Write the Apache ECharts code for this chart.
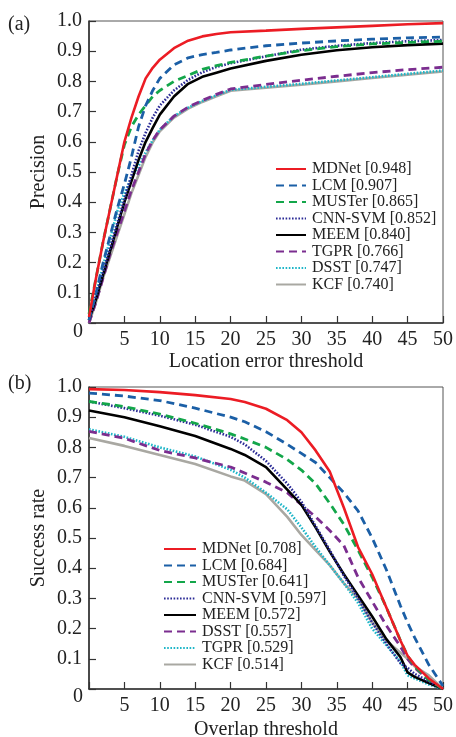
<!DOCTYPE html>
<html>
<head>
<meta charset="utf-8">
<script src="https://cdn.jsdelivr.net/npm/echarts@6/dist/echarts.min.js"></script>
<style>html,body{margin:0;padding:0;background:#fff;}#c{width:456px;height:737px;}</style>
</head>
<body>
<div id="c"></div>
<script>
// ---- (a) Precision vs location error threshold ----
const thrA = [0,1,2,3,4,5,6,7,8,9,10,12,14,16,18,20,25,30,35,40,45,50];
const namesA = ['MDNet [0.948]','LCM [0.907]','MUSTer [0.865]','CNN-SVM [0.852]','MEEM [0.840]','TGPR [0.766]','DSST [0.747]','KCF [0.740]'];
const a_MDNet  = [0.02,0.15,0.27,0.38,0.49,0.60,0.68,0.75,0.81,0.845,0.872,0.91,0.935,0.949,0.957,0.963,0.968,0.974,0.979,0.984,0.989,0.993];
const a_LCM    = [0.01,0.10,0.20,0.29,0.38,0.46,0.55,0.65,0.72,0.77,0.81,0.855,0.878,0.889,0.896,0.904,0.918,0.927,0.934,0.94,0.944,0.947];
const a_MUSTer = [0.03,0.15,0.27,0.38,0.49,0.59,0.65,0.69,0.72,0.75,0.77,0.80,0.82,0.84,0.852,0.863,0.884,0.902,0.915,0.924,0.929,0.933];
const a_CNNSVM = [0.01,0.09,0.17,0.25,0.33,0.41,0.49,0.57,0.63,0.68,0.72,0.77,0.805,0.83,0.848,0.86,0.883,0.905,0.918,0.927,0.933,0.937];
const a_MEEM   = [0.01,0.08,0.16,0.24,0.32,0.40,0.47,0.54,0.60,0.646,0.69,0.75,0.792,0.815,0.829,0.843,0.868,0.888,0.903,0.913,0.92,0.925];
const a_TGPR   = [0.00,0.07,0.15,0.23,0.30,0.37,0.44,0.50,0.56,0.605,0.64,0.685,0.715,0.737,0.757,0.775,0.79,0.804,0.817,0.829,0.839,0.847];
const a_DSST   = [0.01,0.10,0.19,0.28,0.37,0.43,0.48,0.52,0.565,0.605,0.64,0.685,0.713,0.735,0.754,0.772,0.782,0.792,0.803,0.814,0.825,0.836];
const a_KCF    = [0.00,0.07,0.15,0.22,0.29,0.36,0.43,0.49,0.55,0.598,0.635,0.68,0.71,0.732,0.751,0.769,0.779,0.789,0.80,0.811,0.822,0.833];
const valsA = [a_MDNet,a_LCM,a_MUSTer,a_CNNSVM,a_MEEM,a_TGPR,a_DSST,a_KCF];

// ---- (b) Success rate vs overlap threshold ----
const thrB = [0,5,10,15,20,22,25,28,30,32,34,36,38,40,42,44,45,46,48,50];
const namesB = ['MDNet [0.708]','LCM [0.684]','MUSTer [0.641]','CNN-SVM [0.597]','MEEM [0.572]','DSST [0.557]','TGPR [0.529]','KCF [0.514]'];
const b_MDNet  = [0.993,0.99,0.983,0.973,0.96,0.95,0.928,0.89,0.85,0.79,0.72,0.60,0.47,0.38,0.27,0.16,0.11,0.08,0.035,0.0];
const b_LCM    = [0.98,0.97,0.955,0.93,0.90,0.885,0.852,0.81,0.78,0.75,0.70,0.65,0.59,0.50,0.395,0.275,0.22,0.17,0.08,0.01];
const b_MUSTer = [0.952,0.935,0.91,0.88,0.845,0.828,0.80,0.76,0.725,0.68,0.615,0.545,0.46,0.37,0.27,0.16,0.11,0.075,0.03,0.0];
const b_CNNSVM = [0.952,0.93,0.905,0.875,0.835,0.81,0.755,0.68,0.62,0.54,0.46,0.375,0.30,0.22,0.15,0.085,0.07,0.05,0.025,0.0];
const b_MEEM   = [0.922,0.90,0.87,0.838,0.795,0.775,0.735,0.66,0.61,0.535,0.455,0.38,0.31,0.24,0.165,0.105,0.055,0.04,0.02,0.0];
const b_DSST   = [0.853,0.83,0.79,0.765,0.735,0.715,0.685,0.65,0.61,0.57,0.525,0.475,0.37,0.29,0.21,0.14,0.10,0.07,0.03,0.0];
const b_TGPR   = [0.86,0.835,0.80,0.77,0.726,0.70,0.65,0.595,0.535,0.47,0.41,0.35,0.285,0.20,0.145,0.09,0.045,0.035,0.015,0.0];
const b_KCF    = [0.831,0.805,0.775,0.745,0.704,0.69,0.645,0.57,0.51,0.46,0.41,0.35,0.30,0.22,0.16,0.12,0.10,0.075,0.045,0.0];
const valsB = [b_MDNet,b_LCM,b_MUSTer,b_CNNSVM,b_MEEM,b_DSST,b_TGPR,b_KCF];

const xTicks = [5,10,15,20,25,30,35,40,45,50];

const styles = [
  {color:'#ec1c24', type:'solid', width:2.6},
  {color:'#1b5fa6', type:[8,5], width:2.8},
  {color:'#13a64a', type:[8,5], width:2.8},
  {color:'#2b2b96', type:[1.6,1.6], width:2.6},
  {color:'#000000', type:'solid', width:2.6},
  {color:'#7b2d8f', type:[8,5], width:2.8},
  {color:'#1fb6c8', type:[1.6,1.6], width:2.6},
  {color:'#a9a8a2', type:'solid', width:2.6}
];

const FONT = 'Liberation Serif';
function makeSeries(names, vals, thr, sty, gi) {
  const out = [];
  for (let i = names.length - 1; i >= 0; i--) {
    out.push({
      name: names[i], type: 'line', xAxisIndex: gi, yAxisIndex: gi,
      symbol: 'none', showSymbol: false, silent: true, animation: false,
      data: thr.map((t, k) => [t, vals[i][k]]),
      lineStyle: {color: sty[i].color, type: sty[i].type, width: sty[i].width},
      itemStyle: {color: sty[i].color},
      z: 2 + (names.length - i)
    });
  }
  return out;
}
function xAxis(gi, name, nameGap) {
  return {
    type: 'value', gridIndex: gi, min: 0, max: 50, interval: 5,
    name: name, nameLocation: 'middle', nameGap: nameGap, nameMoveOverlap: false,
    nameTextStyle: {fontFamily: FONT, fontSize: 20, color: '#222'},
    axisLine: {lineStyle: {color: '#333', width: 1.6}},
    axisTick: {inside: true, length: 7, lineStyle: {color: '#333', width: 1.2}},
    axisLabel: {fontFamily: FONT, fontSize: 20, color: '#222', margin: 7,
      formatter: v => (xTicks.indexOf(v) >= 0 ? String(v) : '')},
    splitLine: {show: false}
  };
}
function yAxis(gi, name) {
  return {
    type: 'value', gridIndex: gi, min: 0, max: 1, interval: 0.1,
    name: name, nameLocation: 'middle', nameGap: 40, nameMoveOverlap: false,
    nameTextStyle: {fontFamily: FONT, fontSize: 20, color: '#222'},
    axisLine: {lineStyle: {color: '#333', width: 1.6}},
    axisTick: {inside: true, length: 7, lineStyle: {color: '#333', width: 1.2}},
    axisLabel: {fontFamily: FONT, fontSize: 20, color: '#222', margin: 7,
      formatter: v => (Math.abs(v) < 1e-9 ? '' : v.toFixed(1))},
    splitLine: {show: false}
  };
}
function legend(names, left, top, iw) {
  return {
    data: names, orient: 'vertical', left: left, top: top,
    itemWidth: iw, itemHeight: 12, itemGap: 0.5, padding: 0,
    selectedMode: false,
    itemStyle: {opacity: 0, borderWidth: 0},
    textStyle: {fontFamily: FONT, fontSize: 16, color: '#222', lineHeight: 16, padding: [0, 0, 0, 1]}
  };
}

const chart = echarts.init(document.getElementById('c'), null, {renderer: 'canvas'});
chart.setOption({
  animation: false,
  backgroundColor: '#fff',
  grid: [
    {left: 89, top: 21, width: 354, height: 302, show: true, borderColor: '#555', borderWidth: 1, backgroundColor: 'transparent', containLabel: false, outerBoundsMode: 'none'},
    {left: 89, top: 387, width: 354, height: 302, show: true, borderColor: '#555', borderWidth: 1, backgroundColor: 'transparent', containLabel: false, outerBoundsMode: 'none'}
  ],
  xAxis: [xAxis(0, 'Location error threshold', 29), xAxis(1, 'Overlap threshold', 31)],
  yAxis: [yAxis(0, 'Precision'), yAxis(1, 'Success rate')],
  legend: [legend(namesA, 275, 161, 30), legend(namesB, 163, 541, 32)],
  graphic: [
    {type: 'text', left: 8, top: 15, style: {text: '(a)', font: '20px "Liberation Serif"', fill: '#222'}},
    {type: 'text', left: 8, top: 374, style: {text: '(b)', font: '20px "Liberation Serif"', fill: '#222'}},
    {type: 'text', left: 73, top: 322, style: {text: '0', font: '20px "Liberation Serif"', fill: '#222'}},
    {type: 'text', left: 73, top: 687, style: {text: '0', font: '20px "Liberation Serif"', fill: '#222'}}
  ],
  series: makeSeries(namesA, valsA, thrA, styles, 0).concat(makeSeries(namesB, valsB, thrB, styles, 1))
});
</script>
</body>
</html>
